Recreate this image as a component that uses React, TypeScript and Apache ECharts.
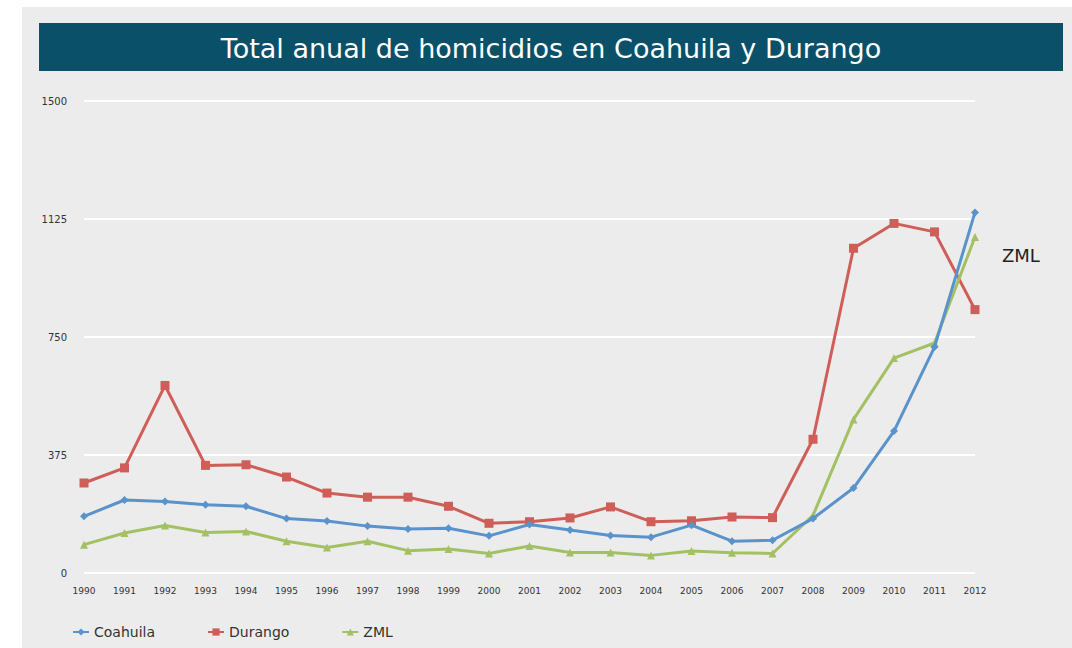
import React, { useEffect, useRef } from "react";
import * as echarts from "echarts";

const years = ["1990","1991","1992","1993","1994","1995","1996","1997","1998","1999","2000","2001","2002","2003","2004","2005","2006","2007","2008","2009","2010","2011","2012"];
const coahuila = [180,232,227,217,212,173,165,149,140,142,118,154,137,119,114,152,101,104,173,270,451,718,1146];
const durango = [286,334,596,342,344,305,254,241,241,212,158,163,175,210,163,166,178,176,425,1032,1111,1084,837];
const zml = [90,127,151,129,132,101,81,101,71,76,62,86,65,65,56,70,64,62,183,488,683,731,1068];
const yTicks = [0, 375, 750, 1125, 1500];

const titleText = "Total anual de homicidios en Coahuila y Durango";
const FONT = "'DejaVu Sans', 'Noto Sans', sans-serif";

export default function App() {
  const ref = useRef<HTMLDivElement>(null);
  useEffect(() => {
    if (!ref.current) return;
    const chart = echarts.init(ref.current, undefined, { renderer: "svg" });
    chart.setOption({
      animation: false,
      backgroundColor: "#ffffff",
      textStyle: { fontFamily: FONT },
      graphic: [
        { type: "rect", z: -10, shape: { x: 22, y: 7, width: 1050, height: 641 }, style: { fill: "#ececec" } },
        { type: "rect", z: 1, shape: { x: 39, y: 23, width: 1024, height: 48 }, style: { fill: "#0b5069" } },
        { type: "text", z: 2, x: 551, y: 48, style: { text: titleText, fill: "#ffffff", fontSize: 27, fontFamily: FONT, align: "center", verticalAlign: "middle" } },
        { type: "text", z: 2, x: 1002, y: 255, style: { text: "ZML", fill: "#222222", fontSize: 18, fontFamily: FONT, align: "left", verticalAlign: "middle" } },
      ],
      legend: {
        left: 67,
        top: 620,
        itemGap: 52,
        itemWidth: 16,
        itemHeight: 9,
        textStyle: { fontSize: 14, color: "#333333", fontFamily: FONT },
        data: ["Coahuila", "Durango", "ZML"],
      },
      grid: { left: 84, right: 97, top: 101, bottom: 75, containLabel: false },
      xAxis: {
        type: "category",
        data: years,
        boundaryGap: false,
        axisLine: { show: false },
        axisTick: { show: false },
        axisLabel: { fontSize: 9, color: "#333333", margin: 13, fontFamily: FONT },
      },
      yAxis: {
        type: "value",
        min: yTicks[0],
        max: yTicks[yTicks.length - 1],
        interval: yTicks[1] - yTicks[0],
        axisLine: { show: false },
        axisTick: { show: false },
        axisLabel: { fontSize: 10, color: "#333333", margin: 17, padding: [4, 0, 0, 0], fontFamily: FONT, formatter: (v: number) => String(v) },
        splitLine: { lineStyle: { color: "#ffffff", width: 2 } },
      },
      series: [
        {
          name: "Durango", type: "line", data: durango, z: 2,
          symbol: "rect", symbolSize: 9,
          lineStyle: { color: "#cf5d58", width: 3 },
          itemStyle: { color: "#cf5d58" },
        },
        {
          name: "ZML", type: "line", data: zml, z: 3,
          symbol: "triangle", symbolSize: 8,
          lineStyle: { color: "#a3c163", width: 3 },
          itemStyle: { color: "#a3c163" },
        },
        {
          name: "Coahuila", type: "line", data: coahuila, z: 4,
          symbol: "diamond", symbolSize: 8,
          lineStyle: { color: "#5a92cb", width: 3 },
          itemStyle: { color: "#5a92cb" },
        },
      ],
    });
    return () => chart.dispose();
  }, []);
  return <div ref={ref} style={{ position: "fixed", left: 0, top: 0, width: 1072, height: 648 }} />;
}
